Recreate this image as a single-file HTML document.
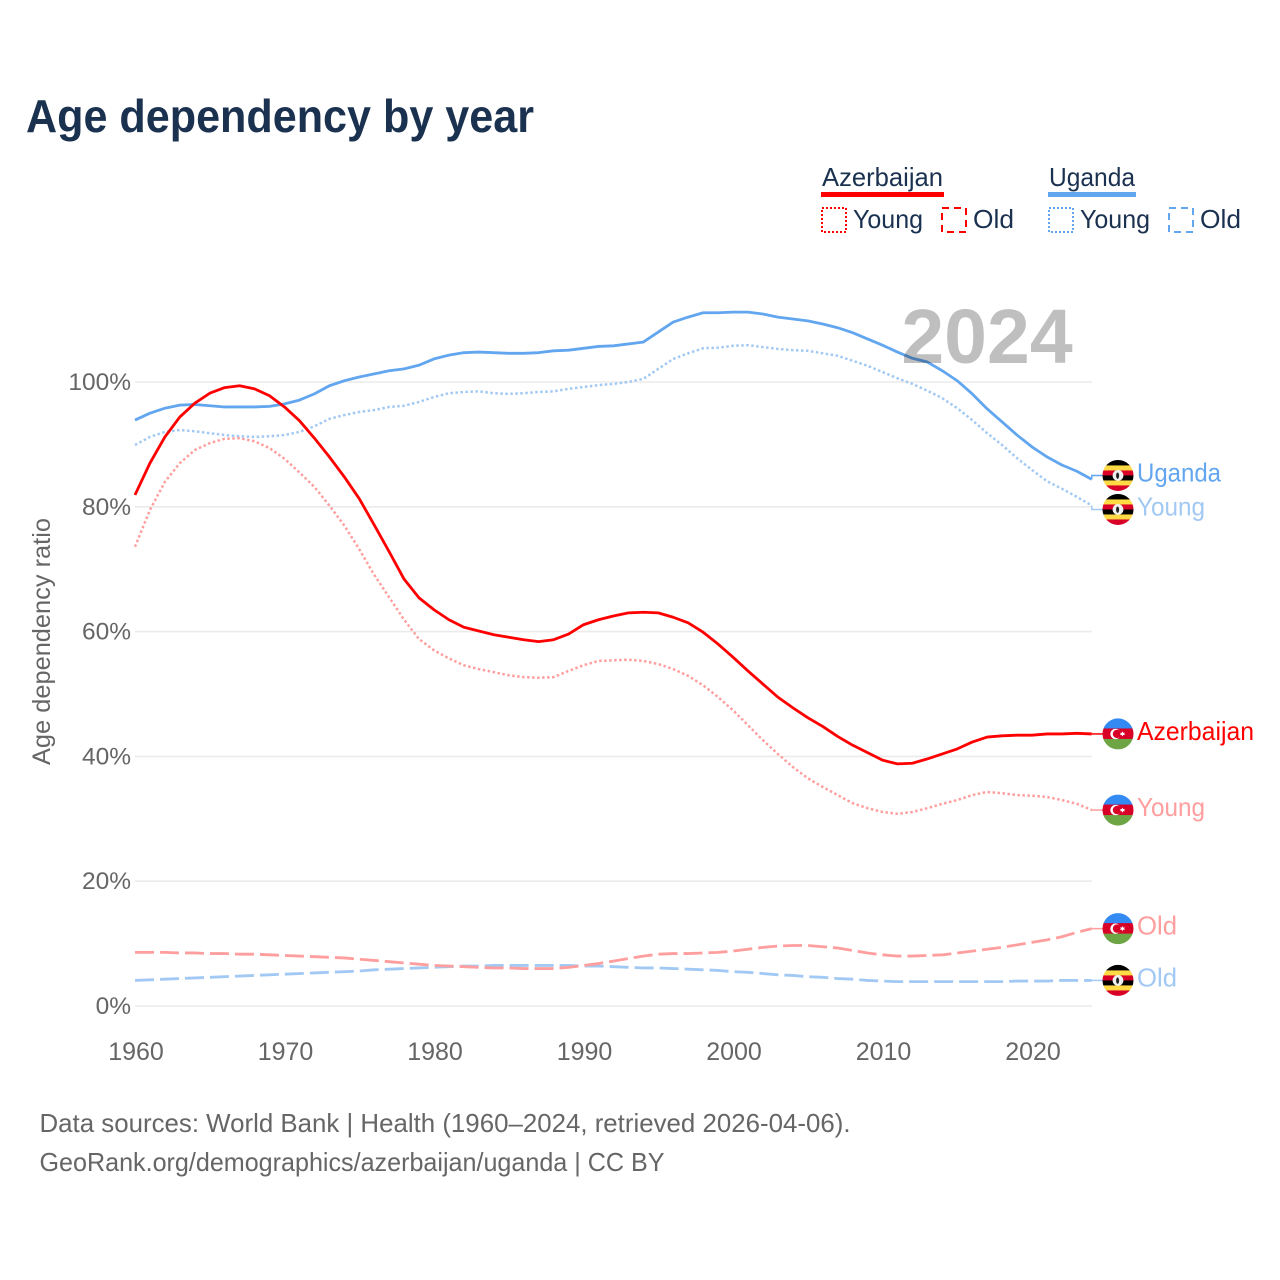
<!DOCTYPE html>
<html lang="en">
<head>
<meta charset="utf-8">
<title>Age dependency by year</title>
<style>
html,body{margin:0;padding:0;background:#fff;}
svg{display:block;font-family:"Liberation Sans",sans-serif;}
</style>
</head>
<body>
<svg id="chart" xmlns="http://www.w3.org/2000/svg" width="1280" height="1280" viewBox="0 0 1280 1280">
  <defs>
    <clipPath id="flag-clip"><circle cx="0" cy="0" r="15.5"/></clipPath>
    <g id="flag-az" clip-path="url(#flag-clip)">
      <rect x="-16" y="-16" width="32" height="11" fill="#338af3"/>
      <rect x="-16" y="-5.5" width="32" height="11" fill="#d80027"/>
      <rect x="-16" y="5" width="32" height="11" fill="#6da544"/>
      <circle cx="-2.5" cy="0" r="5.2" fill="#fff"/>
      <circle cx="-1" cy="0" r="4.2" fill="#d80027"/>
      <polygon points="4.5,-2.6 5.3,-1 7,-1.2 6.2,0 7,1.2 5.3,1 4.5,2.6 3.7,1 2,1.2 2.8,0 2,-1.2 3.7,-1" fill="#fff"/>
    </g>
    <g id="flag-ug" clip-path="url(#flag-clip)">
      <rect x="-16" y="-16" width="32" height="6.2" fill="#000"/>
      <rect x="-16" y="-10" width="32" height="5.2" fill="#ffda44"/>
      <rect x="-16" y="-5" width="32" height="5.2" fill="#d80027"/>
      <rect x="-16" y="0" width="32" height="5.2" fill="#000"/>
      <rect x="-16" y="5" width="32" height="5.2" fill="#ffda44"/>
      <rect x="-16" y="10" width="32" height="6" fill="#d80027"/>
      <circle cx="0" cy="0" r="5.4" fill="#f0f0f0"/>
      <ellipse cx="-0.4" cy="0.2" rx="1.5" ry="3.2" fill="#222"/>
    </g>
  </defs>

  <text x="26" y="132" font-size="46" font-weight="700" fill="#1a3150" textLength="508" lengthAdjust="spacingAndGlyphs">Age dependency by year</text>

  <g font-size="26" fill="#1a3150">
    <text x="822" y="186" textLength="121" lengthAdjust="spacingAndGlyphs">Azerbaijan</text>
    <rect x="821" y="192" width="123" height="5" fill="#ff0000"/>
    <rect x="822" y="208" width="24" height="24" fill="none" stroke="#ff0000" stroke-width="2" stroke-dasharray="2 2"/>
    <text x="853" y="228" textLength="70" lengthAdjust="spacingAndGlyphs">Young</text>
    <rect x="942" y="208" width="24" height="24" fill="none" stroke="#ff0000" stroke-width="2" stroke-dasharray="7 5"/>
    <text x="973" y="228" textLength="41" lengthAdjust="spacingAndGlyphs">Old</text>
    <text x="1049" y="186" textLength="86" lengthAdjust="spacingAndGlyphs">Uganda</text>
    <rect x="1048" y="192" width="88" height="5" fill="#62a6ef"/>
    <rect x="1049" y="208" width="24" height="24" fill="none" stroke="#62a6ef" stroke-width="2" stroke-dasharray="2 2"/>
    <text x="1080" y="228" textLength="70" lengthAdjust="spacingAndGlyphs">Young</text>
    <rect x="1169" y="208" width="24" height="24" fill="none" stroke="#62a6ef" stroke-width="2" stroke-dasharray="7 5"/>
    <text x="1200" y="228" textLength="41" lengthAdjust="spacingAndGlyphs">Old</text>
  </g>

  <text transform="translate(50,641.5) rotate(-90)" text-anchor="middle" font-size="25" fill="#666" textLength="247" lengthAdjust="spacingAndGlyphs">Age dependency ratio</text>

  <g id="grid"></g>
  <g id="y-ticks"></g>
  <g id="x-ticks"></g>
  <g id="series"></g>
  <g id="end-labels"></g>

  <text x="987" y="363" text-anchor="middle" font-size="77" font-weight="700" fill="#000" fill-opacity="0.25">2024</text>

  <g font-size="26" fill="#666">
    <text x="39.5" y="1132" textLength="811" lengthAdjust="spacingAndGlyphs">Data sources: World Bank | Health (1960–2024, retrieved 2026-04-06).</text>
    <text x="39.5" y="1171" textLength="625" lengthAdjust="spacingAndGlyphs">GeoRank.org/demographics/azerbaijan/uganda | CC BY</text>
  </g>
</svg>

<script>
const years = [
  1960,1961,1962,1963,1964,1965,1966,1967,1968,1969,
  1970,1971,1972,1973,1974,1975,1976,1977,1978,1979,
  1980,1981,1982,1983,1984,1985,1986,1987,1988,1989,
  1990,1991,1992,1993,1994,1995,1996,1997,1998,1999,
  2000,2001,2002,2003,2004,2005,2006,2007,2008,2009,
  2010,2011,2012,2013,2014,2015,2016,2017,2018,2019,
  2020,2021,2022,2023,2024
];
const azerbaijanTotal = [
  81.9,87.0,91.2,94.4,96.6,98.2,99.1,99.4,98.9,97.8,
  96.0,93.8,91.0,88.0,84.8,81.3,77.1,72.8,68.4,65.4,
  63.5,61.9,60.7,60.1,59.5,59.1,58.7,58.4,58.7,59.6,
  61.1,61.9,62.5,63.0,63.1,63.0,62.3,61.4,59.9,58.0,
  55.9,53.7,51.6,49.5,47.8,46.2,44.8,43.2,41.8,40.6,
  39.4,38.8,38.9,39.6,40.4,41.2,42.3,43.1,43.3,43.4,
  43.4,43.6,43.6,43.7,43.6
];
const azerbaijanYoung = [
  73.6,79.5,84.0,87.0,89.1,90.2,90.9,91.0,90.5,89.4,
  87.7,85.5,83.2,80.2,77.0,73.2,69.1,65.5,61.9,58.8,
  57.0,55.7,54.6,54.0,53.5,53.0,52.7,52.6,52.7,53.7,
  54.6,55.3,55.4,55.5,55.3,54.8,54.0,52.9,51.4,49.5,
  47.4,45.0,42.6,40.4,38.3,36.5,35.1,33.8,32.5,31.7,
  31.1,30.8,31.1,31.7,32.4,33.0,33.8,34.3,34.1,33.8,
  33.7,33.5,33.0,32.4,31.4
];
const azerbaijanOld = [
  8.6,8.6,8.6,8.5,8.5,8.4,8.4,8.3,8.3,8.2,
  8.1,8.0,7.9,7.8,7.7,7.5,7.3,7.1,6.9,6.7,
  6.5,6.4,6.3,6.2,6.1,6.1,6.0,6.0,6.0,6.2,
  6.5,6.8,7.2,7.6,8.0,8.3,8.4,8.4,8.5,8.6,
  8.8,9.1,9.4,9.6,9.7,9.7,9.5,9.3,8.9,8.5,
  8.2,8.0,8.0,8.1,8.2,8.5,8.8,9.1,9.4,9.8,
  10.2,10.6,11.1,11.8,12.4
];
const ugandaTotal = [
  93.9,95.0,95.8,96.3,96.4,96.2,96.0,96.0,96.0,96.1,
  96.5,97.1,98.1,99.4,100.2,100.8,101.3,101.8,102.1,102.7,
  103.7,104.3,104.7,104.8,104.7,104.6,104.6,104.7,105.0,105.1,
  105.4,105.7,105.8,106.1,106.4,108.0,109.6,110.4,111.1,111.1,
  111.2,111.2,110.9,110.4,110.1,109.8,109.3,108.7,107.9,106.9,
  105.9,104.8,103.8,103.2,101.8,100.2,98.1,95.7,93.6,91.5,
  89.6,88.0,86.7,85.7,84.4
];
const ugandaYoung = [
  89.9,91.2,92.0,92.3,92.1,91.8,91.5,91.3,91.2,91.3,
  91.5,92.0,92.9,94.1,94.7,95.2,95.5,96.0,96.2,96.8,
  97.6,98.2,98.4,98.5,98.2,98.1,98.2,98.4,98.5,98.9,
  99.2,99.5,99.7,100.0,100.5,102.1,103.7,104.6,105.4,105.5,
  105.8,105.9,105.6,105.3,105.1,105.0,104.6,104.2,103.4,102.6,
  101.6,100.6,99.7,98.6,97.4,95.8,93.9,91.8,89.9,87.8,
  85.9,84.1,82.9,81.6,80.2
];
const ugandaOld = [
  4.1,4.2,4.3,4.4,4.5,4.6,4.7,4.8,4.9,5.0,
  5.1,5.2,5.3,5.4,5.5,5.6,5.8,5.9,6.0,6.1,
  6.2,6.3,6.4,6.4,6.5,6.5,6.5,6.5,6.5,6.5,
  6.4,6.4,6.3,6.2,6.1,6.1,6.0,5.9,5.8,5.7,
  5.5,5.4,5.2,5.0,4.9,4.7,4.6,4.4,4.3,4.1,
  4.0,3.9,3.9,3.9,3.9,3.9,3.9,3.9,3.9,4.0,
  4.0,4.0,4.1,4.1,4.1
];
const yTickValues = [0,20,40,60,80,100];
const yTickLabels = ['0%','20%','40%','60%','80%','100%'];
const xTickValues = [1960,1970,1980,1990,2000,2010,2020];
const xTickLabels = ['1960','1970','1980','1990','2000','2010','2020'];

const SVG_NS = 'http://www.w3.org/2000/svg';
function xScale(year){ return 135 + (year - 1960) * 14.95; }
function yScale(pct){ return 1006 - pct * 6.24; }
function make(tag, parent){
  const el = document.createElementNS(SVG_NS, tag);
  parent.appendChild(el);
  return el;
}

const gridG = document.getElementById('grid');
const yTicksG = document.getElementById('y-ticks');
yTickValues.forEach(function(v, i){
  const line = make('line', gridG);
  
  
  line.setAttribute('x1', 135);
  line.setAttribute('x2', xScale(2024));
  line.setAttribute('y1', yScale(v));
  line.setAttribute('y2', yScale(v));
  line.setAttribute('stroke', '#ebebeb');
  line.setAttribute('stroke-width', 1.6);
  const t = make('text', yTicksG);
  
  
  t.setAttribute('x', 131);
  t.setAttribute('y', yScale(v) + 8);
  t.setAttribute('text-anchor', 'end');
  t.setAttribute('font-size', 24.5);
  t.setAttribute('fill', '#666');
  t.textContent = yTickLabels[i];
});

const xTicksG = document.getElementById('x-ticks');
xTickValues.forEach(function(v, i){
  const t = make('text', xTicksG);
  
  
  t.setAttribute('x', xScale(v) + 1);
  t.setAttribute('y', 1060);
  t.setAttribute('text-anchor', 'middle');
  t.setAttribute('font-size', 25);
  t.setAttribute('fill', '#666');
  t.textContent = xTickLabels[i];
});

const seriesList = [
  {key:'uganda-old', values:ugandaOld, color:'#a2c9f4', dash:'19 6', width:2.8, flag:'flag-ug', label:'Old', labelWidth:40},
  {key:'azerbaijan-old', values:azerbaijanOld, color:'#ff9e9e', dash:'19 6', width:2.8, flag:'flag-az', label:'Old', labelWidth:40},
  {key:'uganda-young', values:ugandaYoung, color:'#a2c9f4', dash:'2.5 2.5', width:2.5, flag:'flag-ug', label:'Young', labelWidth:68},
  {key:'azerbaijan-young', values:azerbaijanYoung, color:'#ff9e9e', dash:'2.5 2.5', width:2.5, flag:'flag-az', label:'Young', labelWidth:68},
  {key:'uganda-total', values:ugandaTotal, color:'#62a6ef', dash:null, width:2.8, flag:'flag-ug', label:'Uganda', labelWidth:84},
  {key:'azerbaijan-total', values:azerbaijanTotal, color:'#ff0000', dash:null, width:2.8, flag:'flag-az', label:'Azerbaijan', labelWidth:117}
];

const seriesG = document.getElementById('series');
seriesList.forEach(function(s){
  const pts = s.values.map(function(v, i){
    return xScale(years[i]).toFixed(2) + ',' + yScale(v).toFixed(2);
  }).join(' ');
  const p = make('polyline', seriesG);
  
  
  p.setAttribute('points', pts);
  p.setAttribute('fill', 'none');
  p.setAttribute('stroke', s.color);
  p.setAttribute('stroke-width', s.width);
  p.setAttribute('stroke-linejoin', 'round');
  if (s.dash) p.setAttribute('stroke-dasharray', s.dash);
});

/* End labels: start at last data value and push apart when they would collide. */
const ends = seriesList.map(function(s){
  const raw = yScale(s.values[s.values.length - 1]);
  return {s:s, raw:raw, y:raw};
}).sort(function(a, b){ return a.raw - b.raw; });
const minGap = 34;
for (let pass = 0; pass < 5; pass++) {
  for (let i = 1; i < ends.length; i++) {
    const d = ends[i].y - ends[i - 1].y;
    if (d < minGap) {
      const shift = (minGap - d) / 2;
      ends[i - 1].y -= shift;
      ends[i].y += shift;
    }
  }
}

const labelsG = document.getElementById('end-labels');
ends.forEach(function(e){
  const endX = xScale(2024);
  const leader = make('polyline', labelsG);
  
  
  leader.setAttribute('points', endX + ',' + e.raw + ' ' + endX + ',' + e.y + ' 1104,' + e.y);
  leader.setAttribute('fill', 'none');
  leader.setAttribute('stroke', e.s.color);
  leader.setAttribute('stroke-width', 1.5);

  const flag = make('use', labelsG);
  
  
  flag.setAttribute('href', '#' + e.s.flag);
  flag.setAttribute('transform', 'translate(1118,' + e.y + ')');

  const t = make('text', labelsG);
  
  
  t.setAttribute('x', 1137);
  t.setAttribute('y', e.y + 6);
  t.setAttribute('font-size', 26);
  t.setAttribute('fill', e.s.color);
  t.setAttribute('textLength', e.s.labelWidth);
  t.setAttribute('lengthAdjust', 'spacingAndGlyphs');
  t.textContent = e.s.label;
});
</script>
</body>
</html>
